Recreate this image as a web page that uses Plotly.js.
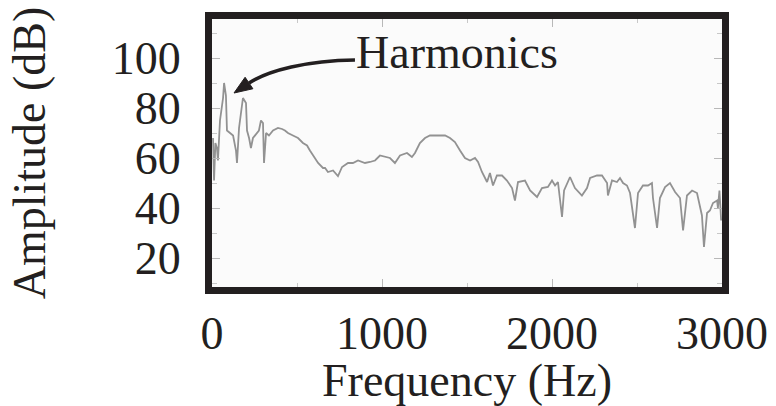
<!DOCTYPE html>
<html>
<head>
<meta charset="utf-8">
<script src="https://cdn.plot.ly/plotly-3.0.1.min.js"></script>
<style>html,body{margin:0;padding:0;background:#fff;}#chart{width:776px;height:406px;}</style>
</head>
<body>
<div id="chart"></div>
<script>
// Frequency (Hz) and amplitude (dB)
var freq = [6,12,20,29,35,47,65,71,82,88,106,124,141,147,159,176,182,200,206,218,229,241,265,276,288,300,306,318,335,359,388,412,429,447,476,506,535,559,576,606,624,653,665,682,712,741,765,800,829,859,900,929,959,988,1018,1047,1076,1106,1147,1176,1194,1223,1253,1282,1330,1371,1400,1429,1459,1488,1518,1547,1565,1588,1618,1635,1653,1676,1706,1735,1765,1782,1800,1841,1871,1912,1941,1976,2000,2018,2035,2059,2071,2106,2135,2176,2206,2224,2265,2294,2324,2329,2353,2382,2400,2418,2441,2459,2488,2506,2535,2565,2588,2594,2618,2635,2665,2694,2724,2753,2771,2794,2824,2853,2882,2894,2912,2929,2947,2971,2976,2985,2995];
var amp = [68,51,66,64,59,75,84,90,85,71,70,69,63,58,72,82,84,82,71,68,64,68,70,71,75,74,58,70,69,71,72,71.6,71,70,69,68,66,65,63,60,58,56,56,54.4,55,52.8,56.4,58,58,59,58,58.4,59,61,60.4,60,58,61,62,60.4,62,66,68,69,69,69,68,66.4,63,60,59,60,58.4,54.4,50.4,54,49,53,53,51,48,43,50.4,51,47,44.4,48,48.4,51,49,50.4,36.4,47,52.4,48,45,48,52,53,53,50,45,51,50.4,52,50,49,46,32,46,49,49,50,44,32,44,48.4,50,46.4,44,31,45,47,46,37,24.4,38,39,42,43,40,47,35];
var xTickVals = [0,1000,2000,3000];
var xTickText = ['0','1000','2000','3000'];
var yTickVals = [20,40,60,80,100];
var yTickText = ['20','40','60','80','100'];
var labelText = 'Harmonics';
var xTitle = 'Frequency (Hz)';
var yTitle = 'Amplitude (dB)';

var serif = 'Liberation Serif, Times New Roman, serif';
var ink = '#231f20';

var trace = {
  x: freq, y: amp, type: 'scatter', mode: 'lines',
  line: {color: '#929292', width: 1.8},
  hoverinfo: 'skip'
};

var layout = {
  width: 776, height: 406,
  margin: {l: 212, r: 54, t: 19, b: 119, pad: 0},
  paper_bgcolor: '#ffffff',
  plot_bgcolor: '#fbfbfb',
  showlegend: false,
  font: {family: serif, color: ink, size: 46},
  xaxis: {
    range: [0, 3000],
    tickmode: 'array', tickvals: xTickVals, ticktext: xTickText,
    ticks: 'inside', ticklen: 8, tickwidth: 1, tickcolor: '#b8b8b8',
    minor: {dtick: 500, tick0: 0, ticks: 'inside', ticklen: 4, tickcolor: '#c8c8c8', showgrid: false},
    showline: true, linewidth: 7, linecolor: ink, mirror: 'allticks',
    showgrid: false, zeroline: false,
    tickfont: {family: serif, size: 46, color: ink},
    title: {text: xTitle, font: {family: serif, size: 46, color: ink}, standoff: 0}
  },
  yaxis: {
    range: [8.4, 115.6],
    tickmode: 'array', tickvals: yTickVals, ticktext: yTickText,
    ticks: 'inside', ticklen: 8, tickwidth: 1, tickcolor: '#b8b8b8',
    minor: {dtick: 10, tick0: 0, ticks: 'inside', ticklen: 5, tickcolor: '#c8c8c8', showgrid: false},
    showline: true, linewidth: 7, linecolor: ink, mirror: 'allticks',
    showgrid: false, zeroline: false,
    ticklabelstandoff: 15,
    tickfont: {family: serif, size: 46, color: ink},
    title: {text: yTitle, font: {family: serif, size: 46, color: ink}, standoff: 54}
  },
  shapes: [
    {type: 'path', xref: 'x', yref: 'y', path: 'M 841,99.2 C 560,99 330,95 218,90',
     line: {color: ink, width: 3.5}},
    {type: 'path', xref: 'x', yref: 'y', path: 'M 129.4,86 L 240.6,87.7 L 194.7,92.3 Z',
     line: {color: ink, width: 1}, fillcolor: ink}
  ],
  annotations: [
    {text: labelText, xref: 'x', yref: 'y', x: 1441, y: 102.4, xanchor: 'center', yanchor: 'middle',
     showarrow: false, font: {family: serif, size: 46, color: ink}}
  ]
};

Plotly.newPlot('chart', [trace], layout, {staticPlot: true, displayModeBar: false});
</script>
</body>
</html>
